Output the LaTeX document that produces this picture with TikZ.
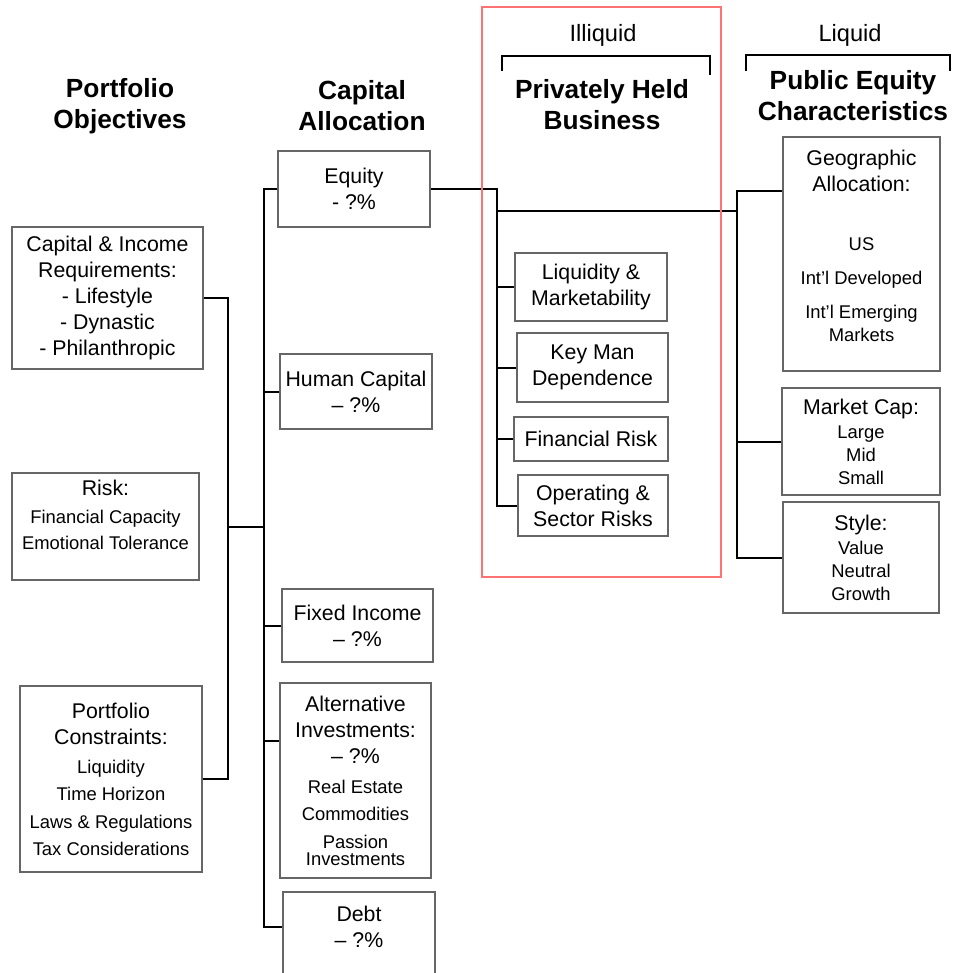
\documentclass[tikz,border=0pt]{standalone}
\usepackage{fontspec}
\setmainfont{Liberation Sans}

\newcommand{\boxfont}{\fontsize{21.3pt}{26pt}\selectfont}
\newcommand{\subfont}{\fontsize{18.4pt}{26pt}\selectfont}
\newcommand{\headfont}{\fontsize{26.3pt}{31pt}\selectfont\bfseries}
\newcommand{\tagfont}{\fontsize{23.6pt}{28pt}\selectfont}

\tikzset{
 box/.style={draw=black!60, line width=1.2pt, align=center, inner sep=0pt, font=\boxfont},
 conn/.style={line width=2pt},
 head/.style={align=center, font=\headfont},
}

\begin{document}
\begin{tikzpicture}[x=1pt,y=-1pt]
 \useasboundingbox (0,0) rectangle (953,973);
 \clip
 (0,0) rectangle (953,973)
 ;
 % headings
 \node[head] (objhead) at (120,106) {Portfolio\\Objectives};
 \node[head] (allochead) at (362,106) {Capital\\Allocation};
 \node[head] (privhead) at (602,105) {Privately Held\\Business};
 \node[head] (pubhead) at (853,96) {Public Equity\\Characteristics};
 \node[font=\tagfont] (illiq) at (603,35) {Illiquid};
 \node[font=\tagfont] (liq) at (850,35) {Liquid};
 \draw[line width=2pt] (502,71) |- (710,56) -- (710,75);
 \draw[line width=2pt] (746,71) |- (950,55) -- (950,71);

 % portfolio objectives
 \node[box, minimum width=191pt, minimum height=142pt] (capinc) at (107.5,298)
 {Capital \& Income\\Requirements:\\- Lifestyle\\- Dynastic\\- Philanthropic};
 \node[box, minimum width=187pt, minimum height=107pt] (risk) at (105.5,526.5)
 {Risk:\\[2pt]{\subfont Financial Capacity}\\{\subfont Emotional Tolerance}\\[-2pt]\mbox{}};
 \node[box, minimum width=182pt, minimum height=186pt] (constr) at (111,779)
 {Portfolio\\Constraints:\\[3pt]{\subfont Liquidity}\\[1pt]{\subfont Time Horizon}\\[2pt]{\subfont Laws \& Regulations}\\[1pt]{\subfont Tax Considerations}};

 % capital allocation
 \node[box, minimum width=152pt, minimum height=76pt] (equity) at (354,189) {Equity\\- ?\%};
 \node[box, minimum width=152pt, minimum height=75pt] (human) at (356,391.5) {Human Capital\\– ?\%};
 \node[box, minimum width=151pt, minimum height=73pt] (fixed) at (357.5,625.5) {Fixed Income\\– ?\%};
 \node[box, minimum width=151pt, minimum height=195pt] (alter) at (355.5,780.5)
 {Alternative\\Investments:\\– ?\%\\[4pt]{\subfont Real Estate}\\[1pt]{\subfont Commodities}\\[2pt]{\subfont Passion}\\[-9pt]{\subfont Investments}};
 \node[box, minimum width=152pt, minimum height=84pt] (debt) at (359,934) {Debt\\– ?\%\\[-12pt]\mbox{}};

 % privately held business
 \node[box, minimum width=152pt, minimum height=68pt] (liqm) at (591,287) {Liquidity \&\\Marketability};
 \node[box, minimum width=151pt, minimum height=69pt] (keyman) at (592.5,367.5) {Key Man\\Dependence};
 \node[box, minimum width=154pt, minimum height=44pt] (finrisk) at (591,439) {Financial Risk};
 \node[box, minimum width=150pt, minimum height=61pt] (operat) at (593,505.5) {Operating \&\\Sector Risks};

 % public equity
 \node[box, minimum width=157pt, minimum height=234pt] (geo) at (861.5,254)
 {Geographic\\Allocation:\\[33pt]{\subfont US}\\[8pt]{\subfont Int’l Developed}\\[8pt]{\subfont Int’l Emerging}\\[-3pt]{\subfont Markets}\\[-10pt]\mbox{}};
 \node[box, minimum width=158pt, minimum height=107pt] (mcap) at (861,441.5)
 {Market Cap:\\[-2pt]{\subfont Large}\\[-3pt]{\subfont Mid}\\[-3pt]{\subfont Small}};
 \node[box, minimum width=156pt, minimum height=111pt] (style) at (861,557.5)
 {Style:\\[-2pt]{\subfont Value}\\[-3pt]{\subfont Neutral}\\[-3pt]{\subfont Growth}};

 % connectors
 \coordinate (objbus) at (228,527);
 \coordinate (allocbus) at (264,527);
 \coordinate (privbus) at (497,211);
 \coordinate (pubbus) at (737,211);
 \draw[conn] (capinc.east) -| (objbus);
 \draw[conn] (objbus) |- (constr.east);
 \draw[conn] (objbus) -- (allocbus);
 \draw[conn] (equity.west) -| (allocbus);
 \draw[conn] (allocbus) |- ([yshift=7pt]debt.west);
 \draw[conn] (human.west) -- (human.west -| allocbus);
 \draw[conn] (fixed.west) -- (fixed.west -| allocbus);
 \draw[conn] ([yshift=40pt]alter.west) -- ([yshift=40pt]alter.west -| allocbus);
 \draw[conn] (equity.east) -| (privbus);
 \draw[conn] (privbus) |- (operat.west);
 \draw[conn] (liqm.west) -- (liqm.west -| privbus);
 \draw[conn] (keyman.west) -- (keyman.west -| privbus);
 \draw[conn] (finrisk.west) -- (finrisk.west -| privbus);
 \draw[conn] (privbus) -- (pubbus);
 \draw[conn] ([yshift=63pt]geo.west) -| (pubbus);
 \draw[conn] (pubbus) |- (style.west);
 \draw[conn] (mcap.west) -- (mcap.west -| pubbus);

 % illiquid frame
 \draw[red!55, line width=2pt] (482,7) rectangle (721,577);
\end{tikzpicture}
\end{document}
